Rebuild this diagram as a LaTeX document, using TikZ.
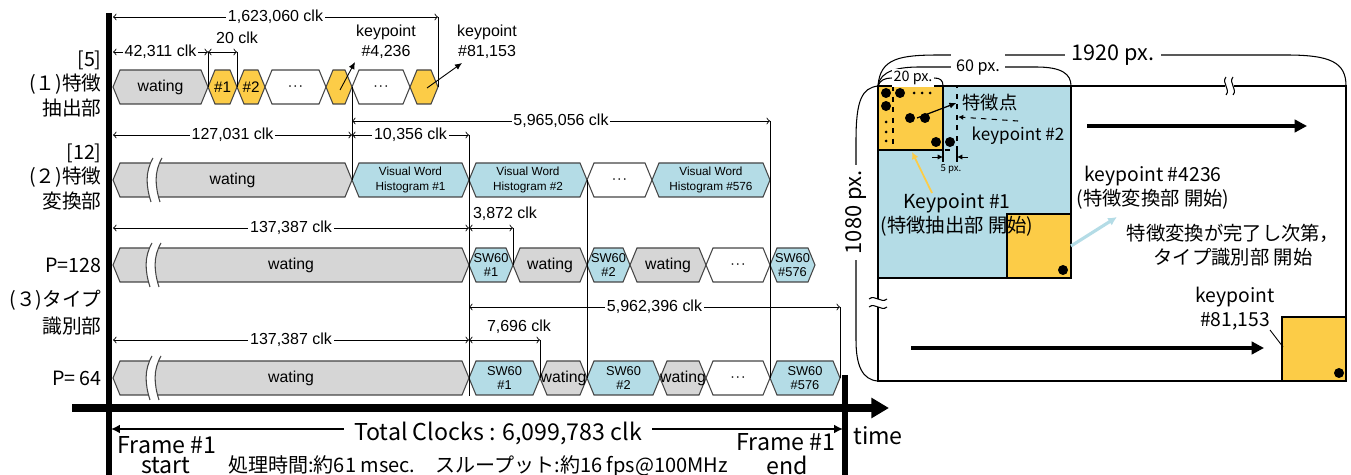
\documentclass[tikz,border=0pt]{standalone}
\usepackage{fontspec}
\setmainfont{Liberation Sans}
\newfontfamily\jp{Noto Sans CJK JP}
\usetikzlibrary{arrows.meta}

\definecolor{wgray}{HTML}{D6D6D6}
\definecolor{kyellow}{HTML}{FCCC47}
\definecolor{vblue}{HTML}{B4DCE6}
\definecolor{edgegray}{HTML}{454545}

% one slot of the timing chart: name, left x, right x, mid y, style, text
\newcommand{\tbox}[6]{%
  \draw[slot,#5] (#2,#4) -- ({#2+7},{#4-17}) -- ({#3-7},{#4-17}) -- (#3,#4)
    -- ({#3-7},{#4+17}) -- ({#2+7},{#4+17}) -- cycle;
  \node[align=center,#5,fill=none,draw=none,inner sep=0pt] (#1) at ({(#2+#3)/2},#4) {#6};}

% wavy break across a long waiting slot: x, mid y
\newcommand{\tbreak}[2]{%
  \fill[white] ({#1+3},{#2-22}) .. controls ({#1-5},{#2-8}) and ({#1-4},{#2+6}) .. ({#1+1},{#2+22})
    -- ({#1+10},{#2+22}) .. controls ({#1+5},{#2+6}) and ({#1+4},{#2-8}) .. ({#1+12},{#2-22}) -- cycle;
  \draw[edgegray,line width=0.6pt] ({#1+3},{#2-22}) .. controls ({#1-5},{#2-8}) and ({#1-4},{#2+6}) .. ({#1+1},{#2+22});
  \draw[edgegray,line width=0.6pt] ({#1+12},{#2-22}) .. controls ({#1+4},{#2-8}) and ({#1+5},{#2+6}) .. ({#1+10},{#2+22});}

\newcommand{\dotsmid}{$\cdot\!\cdot\!\cdot$}

\begin{document}
\begin{tikzpicture}[x=0.02cm,y=-0.02cm,
    slot/.style={draw=edgegray,line width=0.6pt},
    wt/.style={fill=wgray,font=\fontsize{9}{10}\selectfont},
    kp/.style={fill=kyellow,font=\fontsize{8.7}{10}\selectfont},
    dt/.style={fill=white,font=\fontsize{9}{10}\selectfont},
    vw/.style={fill=vblue,font=\fontsize{6.7}{8.5}\selectfont},
    sw/.style={fill=vblue,font=\fontsize{7.3}{8}\selectfont},
    dim/.style={<->,>=to,line width=0.5pt},
    ext/.style={line width=0.5pt},
    dimlbl/.style={fill=white,inner sep=1pt,font=\fontsize{9.1}{11}\selectfont},
    lbl/.style={anchor=east,align=right,inner sep=0pt,font=\jp\fontsize{11.2}{13.7}\selectfont},
    big/.style={font=\jp\fontsize{13.2}{15}\selectfont},
    rt/.style={font=\jp\fontsize{11}{13.7}\selectfont,align=center}]
  \useasboundingbox (0,0) rectangle (1351,475);

  % ---------------- timing chart ----------------
  % row 1: feature extraction
  \tbox{r1w}{113}{208}{87}{wt}{wating}
  \tbox{r1a}{208}{237}{87}{kp}{\#1}
  \tbox{r1b}{237}{265}{87}{kp}{\#2}
  \tbox{r1c}{265}{326}{87}{dt}{\dotsmid}
  \tbox{r1d}{326}{352}{87}{kp}{}
  \tbox{r1e}{352}{410}{87}{dt}{\dotsmid}
  \tbox{r1f}{410}{438}{87}{kp}{}
  % row 2: feature conversion
  \tbox{r2w}{113}{352}{180}{wt}{wating}
  \tbreak{150}{180}
  \tbox{r2a}{352}{469}{180}{vw}{Visual Word\\Histogram \#1}
  \tbox{r2b}{469}{587}{180}{vw}{Visual Word\\Histogram \#2}
  \tbox{r2c}{587}{652}{180}{dt}{\dotsmid}
  \tbox{r2d}{652}{770}{180}{vw}{Visual Word\\Histogram \#576}
  % row 3: type classification, P=128
  \tbox{r3w}{113}{469}{265}{wt}{wating}
  \tbreak{149}{265}
  \tbox{r3a}{469}{513}{265}{sw}{SW60\\\#1}
  \tbox{r3b}{513}{587}{265}{wt}{wating}
  \tbox{r3c}{587}{630}{265}{sw}{SW60\\\#2}
  \tbox{r3d}{630}{706}{265}{wt}{wating}
  \tbox{r3e}{706}{770}{265}{dt}{\dotsmid}
  \tbox{r3f}{770}{815}{265}{sw}{SW60\\\#576}
  % row 4: type classification, P=64
  \tbox{r4w}{113}{469}{378}{wt}{wating}
  \tbreak{149}{378}
  \tbox{r4a}{469}{540}{378}{sw}{SW60\\\#1}
  \tbox{r4b}{540}{587}{378}{wt}{wating}
  \tbox{r4c}{587}{660}{378}{sw}{SW60\\\#2}
  \tbox{r4d}{660}{706}{378}{wt}{wating}
  \tbox{r4e}{706}{770}{378}{dt}{\dotsmid}
  \tbox{r4f}{770}{840}{378}{sw}{SW60\\\#576}

  % extension lines
  \draw[ext] (208,52) -- (208,87);
  \draw[ext] (237,52) -- (237,87);
  \draw[ext] (438,17) -- (438,87);
  \draw[ext] (352,87) -- (352,180);
  \draw[ext] (469,135) -- (469,396);
  \draw[ext] (587,180) -- (587,378);
  \draw[ext] (770,121) -- (770,378);
  \draw[ext] (513,228) -- (513,265);
  \draw[ext] (540,340) -- (540,378);
  \draw[ext] (840,307) -- (840,378);

  % clock counts
  \draw[dim] (113,17) -- node[dimlbl] (c1) {1,623,060 clk} (438,17);
  \draw[dim] (113,52) -- node[dimlbl] (c2) {42,311 clk} (208,52);
  \draw[dim] (208,52) -- (237,52);
  \node[dimlbl] (c3) at (237,38) {20 clk};
  \draw[dim] (352,121) -- node[dimlbl] (c4) {5,965,056 clk} (770,121);
  \draw[dim] (113,135) -- node[dimlbl] (c5) {127,031 clk} (352,135);
  \draw[dim] (352,135) -- node[dimlbl] (c6) {10,356 clk} (469,135);
  \draw[dim] (113,228) -- node[dimlbl] (c7) {137,387 clk} (469,228);
  \draw[dim] (469,228) -- (513,228);
  \node[dimlbl,fill=none] (c8) at (505,214) {3,872 clk};
  \draw[dim] (469,307) -- node[dimlbl] (c9) {5,962,396 clk} (840,307);
  \draw[dim] (113,340) -- node[dimlbl] (c10) {137,387 clk} (469,340);
  \draw[dim] (469,340) -- (540,340);
  \node[dimlbl,fill=none] (c11) at (519,327) {7,696 clk};

  % keypoint callouts
  \node[dimlbl,fill=none,align=center,font=\fontsize{9.1}{11.4}\selectfont] (kpa) at (386,42) {keypoint\\\#4,236};
  \node[dimlbl,fill=none,align=center,font=\fontsize{9.1}{11.4}\selectfont] (kpb) at (487,42) {keypoint\\\#81,153};
  \coordinate (kpafrom) at (340,90);
  \coordinate (kpato) at (355,62);
  \coordinate (kpbfrom) at (427,88);
  \coordinate (kpbto) at (462,63);
  \draw[-{Latex[length=4pt,width=3.5pt]},line width=0.5pt] (kpafrom) -- (kpato);
  \draw[-{Latex[length=4pt,width=3.5pt]},line width=0.5pt] (kpbfrom) -- (kpbto);

  % row labels
  \node[lbl] (l1) at (102,84) {[5]\\(１)特徴\\抽出部};
  \node[lbl] (l2) at (102,177) {[12]\\(２)特徴\\変換部};
  \node[lbl] (l3) at (102,265) {P=128};
  \node[lbl,font=\jp\fontsize{11.2}{15.4}\selectfont] (l4) at (102,313) {(３)タイプ\\識別部};
  \node[lbl] (l5) at (102,378) {P= 64};

  % axes
  \coordinate (ytop) at (109,13);
  \coordinate (ybot) at (109,475);
  \coordinate (t0) at (72,408);
  \coordinate (t1) at (889,408);
  \coordinate (etop) at (845,375);
  \coordinate (ebot) at (845,475);
  \draw[line width=3.8pt] (ytop) -- (ybot);
  \draw[line width=3.4pt] (etop) -- (ebot);
  \draw[line width=4pt,-{Triangle[length=10pt,width=11pt]}] (t0) -- (t1);
  \node[big] (time) at (878,436) {time};

  % total clocks
  \coordinate (tc0) at (111,429);
  \coordinate (tc1) at (843,429);
  \draw[line width=1.4pt,{Latex[length=5pt,width=5pt]}-{Latex[length=5pt,width=5pt]}] (tc0) -- (tc1);
  \node[big,fill=white,inner xsep=6pt,inner ysep=1pt] (tot) at (498,433) {Total Clocks : 6,099,783 clk};
  \node[big] (fs) at (167,445) {Frame \#1};
  \node[big] (fss) at (166,466) {start};
  \node[big] (fe) at (786,442) {Frame \#1};
  \node[big] (fee) at (787,465) {end};
  \node[font=\jp\fontsize{11.4}{13}\selectfont] (ptime) at (478,466) {処理時間:約61 msec.　スループット:約16 fps@100MHz};

  % ---------------- image scan ----------------
  \fill[vblue] (878,86) rectangle (1071,278);
  \fill[kyellow] (878,86) rectangle (943,150);
  \fill[kyellow] (1007,214) rectangle (1071,278);
  \fill[kyellow] (1282,317) rectangle (1346,381);
  \draw[line width=1.1pt] (878,150) -- (943,150) -- (943,86);
  \draw[line width=1.1pt] (878,278) -- (1071,278) -- (1071,86);
  \draw[line width=1.1pt] (1007,278) -- (1007,214) -- (1071,214);
  \draw[line width=1.1pt] (1282,381) -- (1282,317) -- (1346,317);
  \draw[line width=1.4pt] (878,86) rectangle (1346,381);
  % shifted window
  \draw[dashed,line width=0.8pt] (893,86) -- (893,150) -- (957,150) -- (957,86);
  \draw[line width=1.1pt] (943,150) -- (943,162);
  \draw[line width=1.1pt] (957,150) -- (957,162);
  \draw[-{Latex[length=3pt,width=3pt]},line width=0.5pt] (932,157) -- (943,157);
  \draw[-{Latex[length=3pt,width=3pt]},line width=0.5pt] (968,157) -- (957,157);
  \node[font=\jp\fontsize{5.5}{6}\selectfont] (five) at (951,169) {5 px.};

  % pixels
  \foreach \p in {(886,93),(900,93),(886,106),(910,118),(925,118),(936,142),(950,142),(1063,270),(1339,373)}
    \fill \p circle (5);
  \foreach \p in {(914,93),(922,93),(930,93),(886,122),(886,132),(886,141)}
    \fill \p circle (1.5);

  % size arcs
  \draw[line width=0.6pt] (878,86) .. controls (880,58) and (900,55) .. (940,55)
    -- node[fill=white,inner xsep=4pt,font=\jp\fontsize{12.3}{14}\selectfont] (w1920) {1920 px.} (1286,55)
    .. controls (1330,55) and (1346,62) .. (1346,86);
  \draw[line width=0.6pt] (878,86) .. controls (880,70) and (900,67) .. (920,67)
    -- node[fill=white,inner xsep=3pt,font=\jp\fontsize{9.2}{11}\selectfont] (w60) {60 px.} (1036,67)
    .. controls (1062,67) and (1071,74) .. (1071,86);
  \draw[line width=0.6pt] (878,86) .. controls (880,80) and (885,78) .. (892,78)
    -- node[fill=white,inner sep=1pt,font=\jp\fontsize{8.2}{9}\selectfont] (w20) {20 px.} (934,78)
    .. controls (940,78) and (943,80) .. (943,86);
  \draw[line width=0.6pt] (878,86) .. controls (862,88) and (856,100) .. (856,140)
    -- node[fill=white,rotate=90,inner xsep=3pt,font=\jp\fontsize{12.5}{14}\selectfont] (h1080) {1080 px.} (856,285)
    -- (856,340) .. controls (856,365) and (862,380) .. (878,381);

  % break marks
  \fill[white] (1225,83) rectangle (1234,89.5);
  \draw[line width=0.6pt] (1226,77) .. controls (1221,83) and (1231,89) .. (1226,95);
  \draw[line width=0.6pt] (1233,77) .. controls (1228,83) and (1238,89) .. (1233,95);
  \fill[white] (874.5,299) rectangle (881.5,307);
  \draw[line width=0.6pt] (869,299) .. controls (875,294) and (881,304) .. (887,299);
  \draw[line width=0.6pt] (869,307) .. controls (875,302) and (881,312) .. (887,307);

  % scan direction
  \coordinate (sa0) at (1087,126);
  \coordinate (sa1) at (1307,126);
  \coordinate (sb0) at (911,348);
  \coordinate (sb1) at (1264,348);
  \draw[line width=2.4pt,-{Triangle[length=7pt,width=7pt]}] (sa0) -- (sa1);
  \draw[line width=2.4pt,-{Triangle[length=7pt,width=7pt]}] (sb0) -- (sb1);

  % annotations
  \node[font=\jp\fontsize{10.4}{12}\selectfont] (fpt) at (990,103) {特徴点};
  \coordinate (fptsrc) at (917,118);
  \draw[-{Latex[length=4pt,width=3.5pt]},line width=0.7pt] (fptsrc) -- (fpt.west);
  \node[font=\jp\fontsize{9.7}{11}\selectfont] (kp2) at (1018,136) {keypoint \#2};
  \coordinate (kp2to) at (958,117);
  \draw[dashed,-{Latex[length=3pt,width=3pt]},line width=0.6pt] (kp2.north) -- (kp2to);
  \node[rt] (kp1) at (957,215) {Keypoint \#1\\(特徴抽出部 開始)};
  \coordinate (kp1src) at (932,193);
  \coordinate (kp1to) at (912,152);
  \draw[kyellow,line width=1pt,-{Latex[length=4pt,width=4pt]}] (kp1src) -- (kp1to);
  \node[rt] (kp4236) at (1153,188) {keypoint \#4236\\(特徴変換部 開始)};
  \coordinate (bsrc) at (1071,246);
  \coordinate (bto) at (1117,217);
  \draw[vblue,line width=1.8pt,-{Latex[length=5pt,width=5pt]}] (bsrc) -- (bto);
  \node[rt] (next) at (1233,245) {特徴変換が完了し次第，\\タイプ識別部 開始};
  \node[rt] (kp81) at (1235,309) {keypoint\\\#81,153};
  \coordinate (kp81src) at (1270,330);
  \coordinate (kp81to) at (1283,347);
  \draw[line width=0.5pt] (kp81src) -- (kp81to);
\end{tikzpicture}
\end{document}
